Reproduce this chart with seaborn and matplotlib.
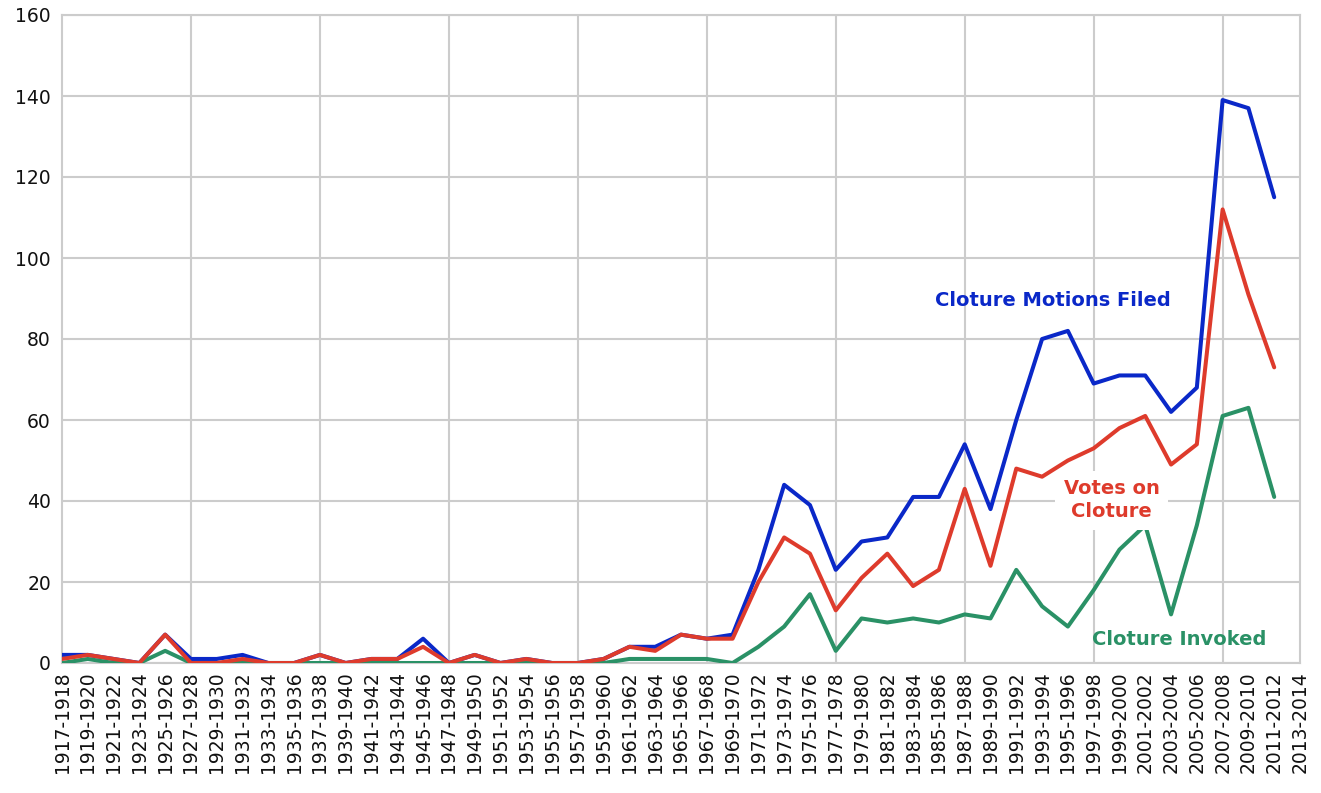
import numpy as np
import pandas as pd
import matplotlib
matplotlib.use("Agg")
import matplotlib.pyplot as plt
import seaborn as sns

periods = [f"{y}-{y+1}" for y in range(1917, 2014, 2)]

motions_filed = [2, 2, 1, 0, 7, 1, 1, 2, 0, 0, 2, 0, 1, 1, 6, 0, 2, 0, 1, 0, 0, 1,
                 4, 4, 7, 6, 7, 23, 44, 39, 23, 30, 31, 41, 41, 54, 38, 60, 80, 82,
                 69, 71, 71, 62, 68, 139, 137, 115]
votes_on_cloture = [1, 2, 1, 0, 7, 0, 0, 1, 0, 0, 2, 0, 1, 1, 4, 0, 2, 0, 1, 0, 0, 1,
                    4, 3, 7, 6, 6, 20, 31, 27, 13, 21, 27, 19, 23, 43, 24, 48, 46, 50,
                    53, 58, 61, 49, 54, 112, 91, 73]
cloture_invoked = [0, 1, 0, 0, 3, 0, 0, 0, 0, 0, 0, 0, 0, 0, 0, 0, 0, 0, 0, 0, 0, 0,
                   1, 1, 1, 1, 0, 4, 9, 17, 3, 11, 10, 11, 10, 12, 11, 23, 14, 9,
                   18, 28, 34, 12, 34, 61, 63, 41]

series_names = ["Cloture Motions Filed", "Votes on Cloture", "Cloture Invoked"]
draw_order = ["Cloture Motions Filed", "Cloture Invoked", "Votes on Cloture"]
colors = {"Cloture Motions Filed": "#0a28c8",
          "Votes on Cloture": "#de3b2c",
          "Cloture Invoked": "#2a9166"}

rows = []
for name, vals in zip(series_names, [motions_filed, votes_on_cloture, cloture_invoked]):
    for i, v in enumerate(vals):
        rows.append({"idx": i, "period": periods[i], "value": v, "series": name})
df = pd.DataFrame(rows)

sns.set_theme(style="white")
plt.rcParams['font.family'] = ['DejaVu Sans']

fig = plt.figure(figsize=(13.21, 7.93), dpi=100)
ax = fig.add_axes([62/1321, 1 - 663/793, (1300 - 62)/1321, (663 - 15)/793])

grid_c = "#cccccc"
ax.set_ylim(0, 160)
ax.set_xlim(0, len(periods) - 1)
ax.set_yticks(range(0, 161, 20))
ax.yaxis.grid(True, color=grid_c, linewidth=1.5, zorder=0)
for i in range(5, len(periods) - 1, 5):
    ax.axvline(i, color=grid_c, linewidth=1.5, zorder=0)
ax.set_axisbelow(True)

sns.lineplot(data=df, x="idx", y="value", hue="series", hue_order=draw_order,
             palette=colors, linewidth=2.9, legend=False, ax=ax, zorder=3)

ax.set_xticks(range(len(periods)))
ax.set_xticklabels(periods, rotation=90, fontsize=13.5, color="#111111")
ax.tick_params(axis="y", labelsize=13.5, length=0, pad=8, labelcolor="#111111")
ax.tick_params(axis="x", length=0, pad=6)
ax.set_xlabel("")
ax.set_ylabel("")
for s in ax.spines.values():
    s.set_color(grid_c)
    s.set_linewidth(1.5)

ax.text(38.4, 89.6, "Cloture Motions Filed", color=colors["Cloture Motions Filed"],
        fontsize=14, fontweight="bold", ha="center", va="center", zorder=5)
ax.text(40.7, 40.2, "Votes on\nCloture", color=colors["Votes on Cloture"],
        fontsize=14, fontweight="bold", ha="center", va="center", zorder=5,
        linespacing=1.3,
        bbox=dict(facecolor="white", edgecolor="none", pad=6))
ax.text(43.3, 5.7, "Cloture Invoked", color=colors["Cloture Invoked"],
        fontsize=14, fontweight="bold", ha="center", va="center", zorder=5)

fig.savefig("out.png", dpi=100)
